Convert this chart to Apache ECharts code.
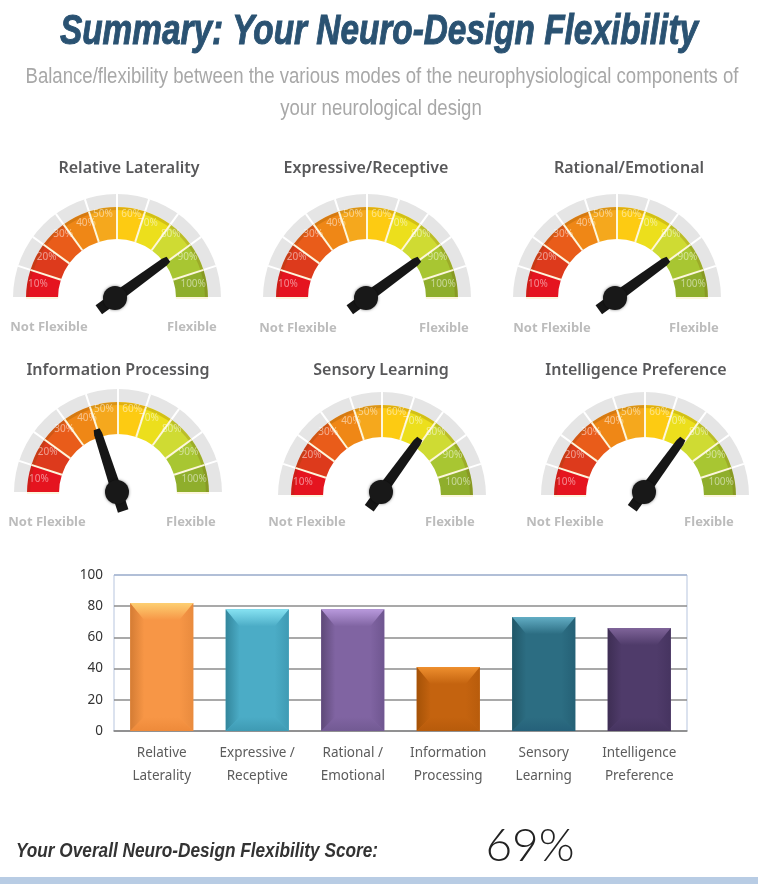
<!DOCTYPE html>
<html>
<head>
<meta charset="utf-8">
<script src="https://cdn.jsdelivr.net/npm/echarts@6/dist/echarts.min.js"></script>
<style>
  html, body { margin: 0; padding: 0; background: #fff; }
  #chart { width: 758px; height: 884px; }
</style>
</head>
<body>
<div id="chart"></div>
<script>
const NARROW = '"Liberation Sans", sans-serif';
const BODY = '"Noto Sans", "Open Sans", sans-serif';

const SEGMENTS = ["#e5141f", "#dd3a1c", "#e95c1a", "#ef8716", "#f5a81d", "#fdcb12", "#ecdf1c", "#cfdb33", "#a8c632", "#8fae2c"];
const NEEDLE = "path://M22 0L78 0L88 50L100 660L100 860L0 860L0 660L12 50Z";

// cx/cy = dial, hx/hy = needle hub, value = where the needle points
const gauges = [
  { name: "Relative Laterality", x: 129, y: 168, cx: 117, cy: 298, hx: 115, hy: 298, value: 80, low: [49, 327], high: [192, 327] },
  { name: "Expressive/Receptive", x: 366, y: 168, cx: 367, cy: 298, hx: 366, hy: 298, value: 80, low: [298, 328], high: [444, 328] },
  { name: "Rational/Emotional", x: 629, y: 168, cx: 617, cy: 298, hx: 615, hy: 298, value: 80, low: [552, 328], high: [694, 328] },
  { name: "Information Processing", x: 118, y: 370, cx: 118, cy: 493, hx: 117, hy: 492, value: 40, low: [47, 522], high: [191, 522] },
  { name: "Sensory Learning", x: 381, y: 370, cx: 382, cy: 496, hx: 381, hy: 492, value: 70, low: [307, 522], high: [450, 522] },
  { name: "Intelligence Preference", x: 636, y: 370, cx: 645, cy: 496, hx: 644, hy: 492, value: 70, low: [565, 522], high: [709, 522] },
];

const bars = [
  { name: "Relative\nLaterality", value: 82, colors: { mid: "#f79646", top: "#fdcf72", left: "#d47c34", right: "#e98b3e", bottom: "#ee8a3a" } },
  { name: "Expressive /\nReceptive", value: 78, colors: { mid: "#4bacc6", top: "#86e2f2", left: "#33869c", right: "#3f9bb4", bottom: "#3e9ab3" } },
  { name: "Rational /\nEmotional", value: 78, colors: { mid: "#8064a2", top: "#b899dc", left: "#5e4978", right: "#6f5690", bottom: "#725a93" } },
  { name: "Information\nProcessing", value: 41, colors: { mid: "#c4630f", top: "#ee8f2e", left: "#a55207", right: "#b85c0c", bottom: "#b75b0b" } },
  { name: "Sensory\nLearning", value: 73, colors: { mid: "#2c6d82", top: "#62adc4", left: "#215768", right: "#256176", bottom: "#25617a" } },
  { name: "Intelligence\nPreference", value: 66, colors: { mid: "#4f3b6a", top: "#7f6499", left: "#3e2e54", right: "#463460", bottom: "#463460" } },
];

function text(str, x, y, style, scaleX) {
  return {
    type: "text",
    x,
    y,
    scaleX: scaleX || 1,
    silent: true,
    style: Object.assign({ text: str, align: "center", verticalAlign: "middle", fontFamily: BODY }, style),
  };
}

function gaugeBase(g, radius, width) {
  return {
    type: "gauge",
    center: [g.cx, g.cy],
    radius,
    startAngle: 180,
    endAngle: 0,
    min: 0,
    max: 100,
    splitNumber: 10,
    silent: true,
    animation: false,
    pointer: { show: false },
    axisTick: { show: false },
    axisLabel: { show: false },
    splitLine: { show: false },
    detail: { show: false },
    title: { show: false },
    axisLine: { show: false, lineStyle: { width } },
    data: [],
  };
}

function gaugeSeries(g) {
  const ring = gaugeBase(g, 104, 13);
  ring.axisLine = { show: true, lineStyle: { width: 13, color: [[1, "#e5e5e5"]] } };
  ring.splitLine = { show: true, distance: -13, length: 13, lineStyle: { color: "#fff", width: 2 } };

  const dial = gaugeBase(g, 91, 32);
  dial.axisLine = {
    show: true,
    lineStyle: { width: 32, color: SEGMENTS.map((c, i) => [(i + 1) / 10, c]) },
  };

  const edge = gaugeBase(g, 91, 3);
  edge.axisLine = { show: true, lineStyle: { width: 3, color: [[1, "rgba(110,70,0,0.2)"]] } };

  const dividers = gaugeBase(g, 91, 32);
  dividers.splitLine = { show: true, distance: -32, length: 32, lineStyle: { color: "#fdf6dc", width: 2 } };

  // labels sit in the middle of each segment, so this axis ticks every 5
  const labels = gaugeBase(g, 91, 32);
  labels.splitNumber = 20;
  labels.axisLabel = {
    show: true,
    distance: -19,
    fontSize: 10,
    fontFamily: BODY,
    color: "rgba(255,255,255,0.5)",
    formatter: (v) => (Math.round(v) % 10 === 5 ? Math.round(v) + 5 + "%" : ""),
  };

  const needle = gaugeBase(g, 91, 1);
  needle.center = [g.hx, g.hy];
  needle.pointer = { show: true, icon: NEEDLE, width: 11, length: 86, offsetCenter: [0, 20], itemStyle: { color: "#161616" } };
  needle.anchor = { show: true, showAbove: true, size: 24, itemStyle: { color: "#181818", shadowBlur: 3, shadowColor: "rgba(0,0,0,0.5)" } };
  needle.data = [{ value: g.value, name: g.name }];

  return [ring, dial, edge, dividers, labels, needle];
}

function renderBevelBar(params, api) {
  const c = bars[params.dataIndex].colors;
  const w = api.size([1, 0])[0] * 0.66;
  const top = api.coord([api.value(0), api.value(1)]);
  const base = api.coord([api.value(0), 0]);
  const x0 = top[0] - w / 2;
  const x1 = top[0] + w / 2;
  const y0 = top[1];
  const y1 = base[1];
  const b = 14;
  const t = 17;
  const poly = (points, fill) => ({ type: "polygon", shape: { points }, style: { fill } });
  const fade = (x, y, x2, y2, from) => ({
    type: "linear", x, y, x2, y2,
    colorStops: [{ offset: 0, color: from }, { offset: 1, color: c.mid }],
  });
  return {
    type: "group",
    children: [
      poly([[x0, y0], [x1, y0], [x1, y1], [x0, y1]], c.mid),
      poly([[x0, y0], [x0 + b, y0 + t], [x0 + b, y1 - b], [x0, y1]], fade(0, 0, 1, 0, c.left)),
      poly([[x1, y0], [x1 - b, y0 + t], [x1 - b, y1 - b], [x1, y1]], fade(1, 0, 0, 0, c.right)),
      poly([[x0, y1], [x0 + b, y1 - b], [x1 - b, y1 - b], [x1, y1]], fade(0, 1, 0, 0, c.bottom)),
      poly([[x0, y0], [x1, y0], [x1 - b, y0 + t], [x0 + b, y0 + t]], fade(0, 0, 0, 1, c.top)),
    ],
  };
}

const labelsText = [
  text("Summary: Your Neuro-Design Flexibility", 379, 32, {
    fontFamily: NARROW, fontSize: 42, fontWeight: "bold", fontStyle: "italic", fill: "#2a5272", stroke: "#2a5272", lineWidth: 1,
  }, 0.794),
  text("Balance/flexibility between the various modes of the neurophysiological components of", 382, 77, {
    fontFamily: NARROW, fontSize: 22, fill: "#a8a8a8",
  }, 0.845),
  text("your neurological design", 381, 109, { fontFamily: NARROW, fontSize: 22, fill: "#a8a8a8" }, 0.845),
  text("Your Overall Neuro-Design Flexibility Score:", 197, 851, {
    fontFamily: NARROW, fontSize: 21, fontWeight: "bold", fontStyle: "italic", fill: "#333",
  }, 0.82),
  text("69%", 530, 846, { fontFamily: '"Lato", sans-serif', fontWeight: 300, fontSize: 46, fill: "#222" }),
];
gauges.forEach((g) => {
  labelsText.push(text(g.name, g.x, g.y, { fontSize: 16, fontWeight: 600, fill: "#58585a" }));
  labelsText.push(text("Not Flexible", g.low[0], g.low[1], { fontSize: 13, fontWeight: "bold", fill: "#bcbcbc" }));
  labelsText.push(text("Flexible", g.high[0], g.high[1], { fontSize: 13, fontWeight: "bold", fill: "#bcbcbc" }));
});
labelsText.push({
  type: "rect",
  silent: true,
  shape: { x: 0, y: 877, width: 758, height: 7 },
  style: { fill: "#b8cce4" },
});

const chart = echarts.init(document.getElementById("chart"));
chart.setOption({
  animation: false,
  backgroundColor: "#fff",
  graphic: { elements: labelsText },
  grid: { left: 114, top: 575, width: 573, height: 156, show: true, borderColor: "#b7c5de", borderWidth: 1, backgroundColor: "transparent" },
  xAxis: {
    type: "category",
    data: bars.map((b) => b.name),
    axisTick: { show: false },
    axisLine: { lineStyle: { color: "#8c8c8c", width: 1.5 } },
    axisLabel: { color: "#5c5c5c", fontSize: 13.5, fontFamily: BODY, lineHeight: 23, margin: 11, interval: 0 },
  },
  yAxis: {
    type: "value",
    min: 0,
    max: 100,
    interval: 20,
    axisLine: { show: false },
    axisTick: { show: false },
    axisLabel: { color: "#333", fontSize: 13.5, fontFamily: BODY, margin: 11 },
    splitLine: { lineStyle: { color: ["#8c8c8c", "#8c8c8c", "#8c8c8c", "#8c8c8c", "#8c8c8c", "#a3b3cf"], width: 1.5 } },
  },
  series: [
    {
      type: "custom",
      renderItem: renderBevelBar,
      encode: { x: 0, y: 1 },
      data: bars.map((b) => [b.name, b.value]),
      z: 5,
    },
    ...gauges.flatMap(gaugeSeries),
  ],
});
</script>
</body>
</html>
